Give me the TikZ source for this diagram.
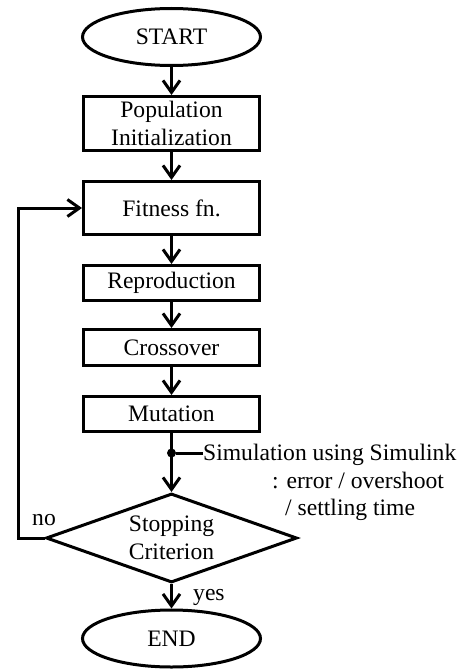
\documentclass[tikz,border=0pt]{standalone}
\usepackage{fontspec}
\setmainfont{Liberation Serif}
\usetikzlibrary{shapes.geometric,arrows.meta}
\begin{document}
\begin{tikzpicture}[x=1pt,y=-1pt,
  every node/.style={font=\fontsize{23.6}{28}\selectfont},
  ln/.style={line width=3pt},
  arr/.style={ln,-{Straight Barb[length=12pt,width=17pt,line width=3pt]}},
  term/.style={ellipse,draw,ln,minimum width=178pt,minimum height=57pt,inner sep=0pt},
  proc/.style={rectangle,draw,ln,minimum width=176pt,inner sep=0pt,align=center},
  decide/.style={diamond,draw,ln,minimum width=251pt,minimum height=89pt,aspect=2.8,inner sep=0pt,align=center},
  lbl/.style={inner sep=0pt,anchor=base west}]
\useasboundingbox (0,0) rectangle (460,669);
\node[term] (start) at (171.5,37) {START};
\node[proc,minimum height=54pt] (pop) at (171.5,123.5) {Population\\Initialization};
\node[proc,minimum height=53pt] (fit) at (171.5,208) {Fitness fn.};
\node[proc,minimum height=35pt] (rep) at (171.5,283) {Reproduction};
\node[proc,minimum height=36pt] (cro) at (171.5,347.5) {Crossover};
\node[proc,minimum height=35pt] (mut) at (171.5,414) {Mutation};
\node[decide] (stop) at (171.5,538) {Stopping\\Criterion};
\node[term] (end) at (171.5,638.5) {END};
\node[circle,fill,inner sep=0pt,minimum size=9pt] (dot) at (171.5,453) {};
\node[lbl] (sim1) at (203,460) {Simulation using Simulink};
\node[lbl] (sim2) at (272,488) {: error / overshoot};
\node[lbl] (sim3) at (285,515) {/ settling time};
\node[lbl] (no) at (32,525) {no};
\node[lbl] (yes) at (193,600) {yes};
\coordinate (c1) at (18,538);
\coordinate (c2) at (18,208);
\draw[arr] (start) -- (pop);
\draw[arr] (pop) -- (fit);
\draw[arr] (fit) -- (rep);
\draw[arr] (rep) -- (cro);
\draw[arr] (cro) -- (mut);
\draw[arr] (mut) -- (stop);
\draw[arr] (stop) -- (end);
\draw[ln] (dot) -- (sim1.west |- dot);
\draw[arr] (stop.west) -- (c1) -- (c2) -- (fit.west);
\end{tikzpicture}
\end{document}
